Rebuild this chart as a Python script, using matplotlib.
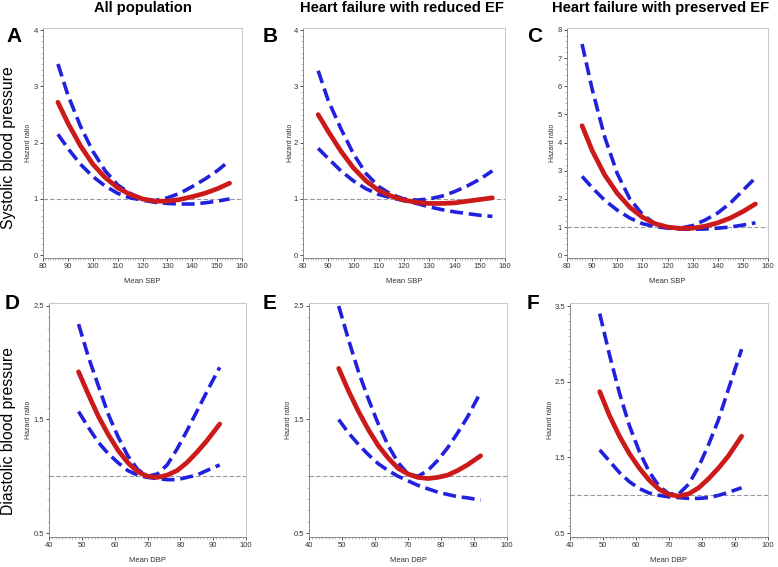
import matplotlib
matplotlib.use("Agg")
import matplotlib.pyplot as plt
from matplotlib.ticker import MultipleLocator

plt.rcParams['font.family'] = ['Liberation Sans', 'DejaVu Sans']

# Systolic panels (A, B, C)
sbp = [86, 90, 95, 100, 105, 110, 115, 120, 125, 130, 135, 140, 145, 150, 155]
a_hr = [2.72, 2.35, 1.95, 1.62, 1.38, 1.20, 1.08, 1.00, 0.96, 0.96, 0.99, 1.04, 1.10, 1.18, 1.28]
a_up = [3.40, 2.85, 2.30, 1.85, 1.50, 1.25, 1.10, 1.00, 0.97, 1.02, 1.10, 1.22, 1.35, 1.50, 1.68]
a_lo = [2.15, 1.90, 1.62, 1.40, 1.23, 1.10, 1.02, 0.98, 0.94, 0.92, 0.91, 0.91, 0.93, 0.96, 1.00]

b_hr = [2.50, 2.20, 1.85, 1.55, 1.32, 1.15, 1.05, 0.98, 0.94, 0.92, 0.92, 0.93, 0.96, 0.99, 1.02]
b_up = [3.28, 2.75, 2.25, 1.80, 1.45, 1.22, 1.08, 1.00, 0.98, 1.00, 1.05, 1.13, 1.23, 1.35, 1.50]
b_lo = [1.90, 1.72, 1.50, 1.32, 1.18, 1.08, 1.02, 0.97, 0.92, 0.86, 0.81, 0.77, 0.74, 0.71, 0.69]

c_hr = [4.60, 3.72, 2.85, 2.20, 1.70, 1.35, 1.12, 1.00, 0.95, 0.96, 1.03, 1.15, 1.32, 1.55, 1.82]
c_up = [7.50, 5.90, 4.20, 2.90, 2.00, 1.45, 1.12, 0.98, 0.96, 1.05, 1.25, 1.50, 1.85, 2.30, 2.75]
c_lo = [2.80, 2.40, 1.95, 1.60, 1.32, 1.12, 1.02, 0.96, 0.93, 0.92, 0.93, 0.96, 1.00, 1.07, 1.15]

# Diastolic panels (D, E, F)
dbp = [49, 52, 55, 58, 61, 64, 67, 70, 73, 76, 79, 82, 85, 88, 92]
d_hr = [1.92, 1.72, 1.53, 1.37, 1.23, 1.12, 1.04, 1.00, 0.99, 1.01, 1.05, 1.12, 1.21, 1.31, 1.46]
d_up = [2.34, 2.05, 1.80, 1.55, 1.35, 1.18, 1.06, 1.00, 1.02, 1.10, 1.24, 1.40, 1.57, 1.74, 1.96]
d_lo = [1.57, 1.43, 1.30, 1.20, 1.12, 1.05, 1.01, 0.99, 0.98, 0.97, 0.97, 0.99, 1.01, 1.05, 1.10]

e_hr = [1.95, 1.75, 1.57, 1.41, 1.27, 1.16, 1.07, 1.02, 0.99, 0.98, 0.99, 1.01, 1.05, 1.10, 1.18]
e_up = [2.50, 2.20, 1.92, 1.68, 1.46, 1.27, 1.12, 1.02, 1.00, 1.05, 1.14, 1.25, 1.38, 1.52, 1.74]
e_lo = [1.50, 1.38, 1.28, 1.19, 1.11, 1.05, 1.00, 0.96, 0.92, 0.89, 0.86, 0.84, 0.82, 0.81, 0.79]

f_hr = [2.37, 2.05, 1.78, 1.55, 1.36, 1.20, 1.08, 1.01, 0.99, 1.02, 1.10, 1.22, 1.36, 1.52, 1.78]
f_up = [3.40, 2.85, 2.35, 1.92, 1.58, 1.31, 1.12, 1.02, 1.02, 1.15, 1.38, 1.67, 2.00, 2.40, 2.93]
f_lo = [1.60, 1.45, 1.30, 1.18, 1.09, 1.03, 1.00, 0.98, 0.97, 0.96, 0.96, 0.97, 1.00, 1.04, 1.10]

col_titles = ["All population", "Heart failure with reduced EF", "Heart failure with preserved EF"]
row_titles = ["Systolic blood pressure", "Diastolic blood pressure"]
letters = ["A", "B", "C", "D", "E", "F"]

W, H = 778, 567
fig = plt.figure(figsize=(W / 100, H / 100), dpi=100)

# panel boxes in pixels: left, right, top, bottom
boxes = [
    (43, 242, 28, 258), (303, 505, 28, 258), (567, 768, 28, 258),
    (49, 246, 303, 537), (309, 507, 303, 537), (570, 768, 303, 537),
]
letter_xy = [(6, 27), (263, 27), (527, 27), (5, 294), (263, 294), (527, 294)]
ylabel_off = [15, 13, 15, 21, 21, 20]
title_x = [143, 402, 661]

panels = [
    (sbp, a_hr, a_up, a_lo, (80, 160), (-0.05, 4.04), [0, 1, 2, 3, 4], "Mean SBP"),
    (sbp, b_hr, b_up, b_lo, (80, 160), (-0.05, 4.04), [0, 1, 2, 3, 4], "Mean SBP"),
    (sbp, c_hr, c_up, c_lo, (80, 160), (-0.1, 8.07), list(range(9)), "Mean SBP"),
    (dbp, d_hr, d_up, d_lo, (40, 100), (0.465, 2.526), [0.5, 1.5, 2.5], "Mean DBP"),
    (dbp, e_hr, e_up, e_lo, (40, 100), (0.465, 2.526), [0.5, 1.5, 2.5], "Mean DBP"),
    (dbp, f_hr, f_up, f_lo, (40, 100), (0.45, 3.54), [0.5, 1.5, 2.5, 3.5], "Mean DBP"),
]

red = '#cc1a1a'
blue = '#2020dd'

for i, (box, p) in enumerate(zip(boxes, panels)):
    l, r, t, b = box
    ax = fig.add_axes([l / W, 1 - b / H, (r - l) / W, (b - t) / H])
    x, hr, up, lo, xlim, ylim, yticks, xlab = p

    ax.axhline(1, color='#999999', lw=0.8, ls=(0, (4, 2)), zorder=1)
    ax.plot(x, up, color=blue, lw=2.6, ls=(0, (3.6, 1.6)), zorder=2)
    ax.plot(x, lo, color=blue, lw=2.6, ls=(0, (3.6, 1.6)), zorder=2)
    ax.plot(x, hr, color=red, lw=3.4, solid_capstyle='round', zorder=3)

    ax.set_xlim(xlim)
    ax.set_ylim(ylim)
    ax.set_yticks(yticks)
    ax.set_yticklabels([f"{v:g}" for v in yticks])
    ax.xaxis.set_major_locator(MultipleLocator(10))
    ax.xaxis.set_minor_locator(MultipleLocator(1))
    ax.yaxis.set_minor_locator(MultipleLocator(0.1 if ylim[1] < 5 else 0.2))
    ax.tick_params(labelsize=5.5, length=2, width=0.6, pad=1.5, colors='#333333')
    ax.tick_params(which='minor', length=1.2, width=0.4, color='#888888')
    for s in ['left', 'bottom']:
        ax.spines[s].set_color('#888888')
        ax.spines[s].set_linewidth(0.7)
    for s in ['top', 'right']:
        ax.spines[s].set_color('#c8c8c8')
        ax.spines[s].set_linewidth(0.7)

    ax.set_xlabel(xlab, fontsize=5.5, color='#333333', labelpad=6)
    ax.set_ylabel("Hazard ratio", fontsize=5, color='#333333', va='center')
    ax.yaxis.set_label_coords(-ylabel_off[i] / (r - l), 0.5)

    lx, ly = letter_xy[i]
    fig.text(lx / W, 1 - ly / H, letters[i], fontsize=15,
             fontweight='bold', ha='left', va='top')

for j, title in enumerate(col_titles):
    fig.text(title_x[j] / W, 1 - 8 / H, title, fontsize=10.6, fontweight='bold',
             ha='center', va='center')

fig.text(9 / W, 1 - 148 / H, row_titles[0], fontsize=11.3, rotation=90,
         ha='center', va='center')
fig.text(9 / W, 1 - 431 / H, row_titles[1], fontsize=11.3, rotation=90,
         ha='center', va='center')

fig.savefig("out.png", dpi=100)
